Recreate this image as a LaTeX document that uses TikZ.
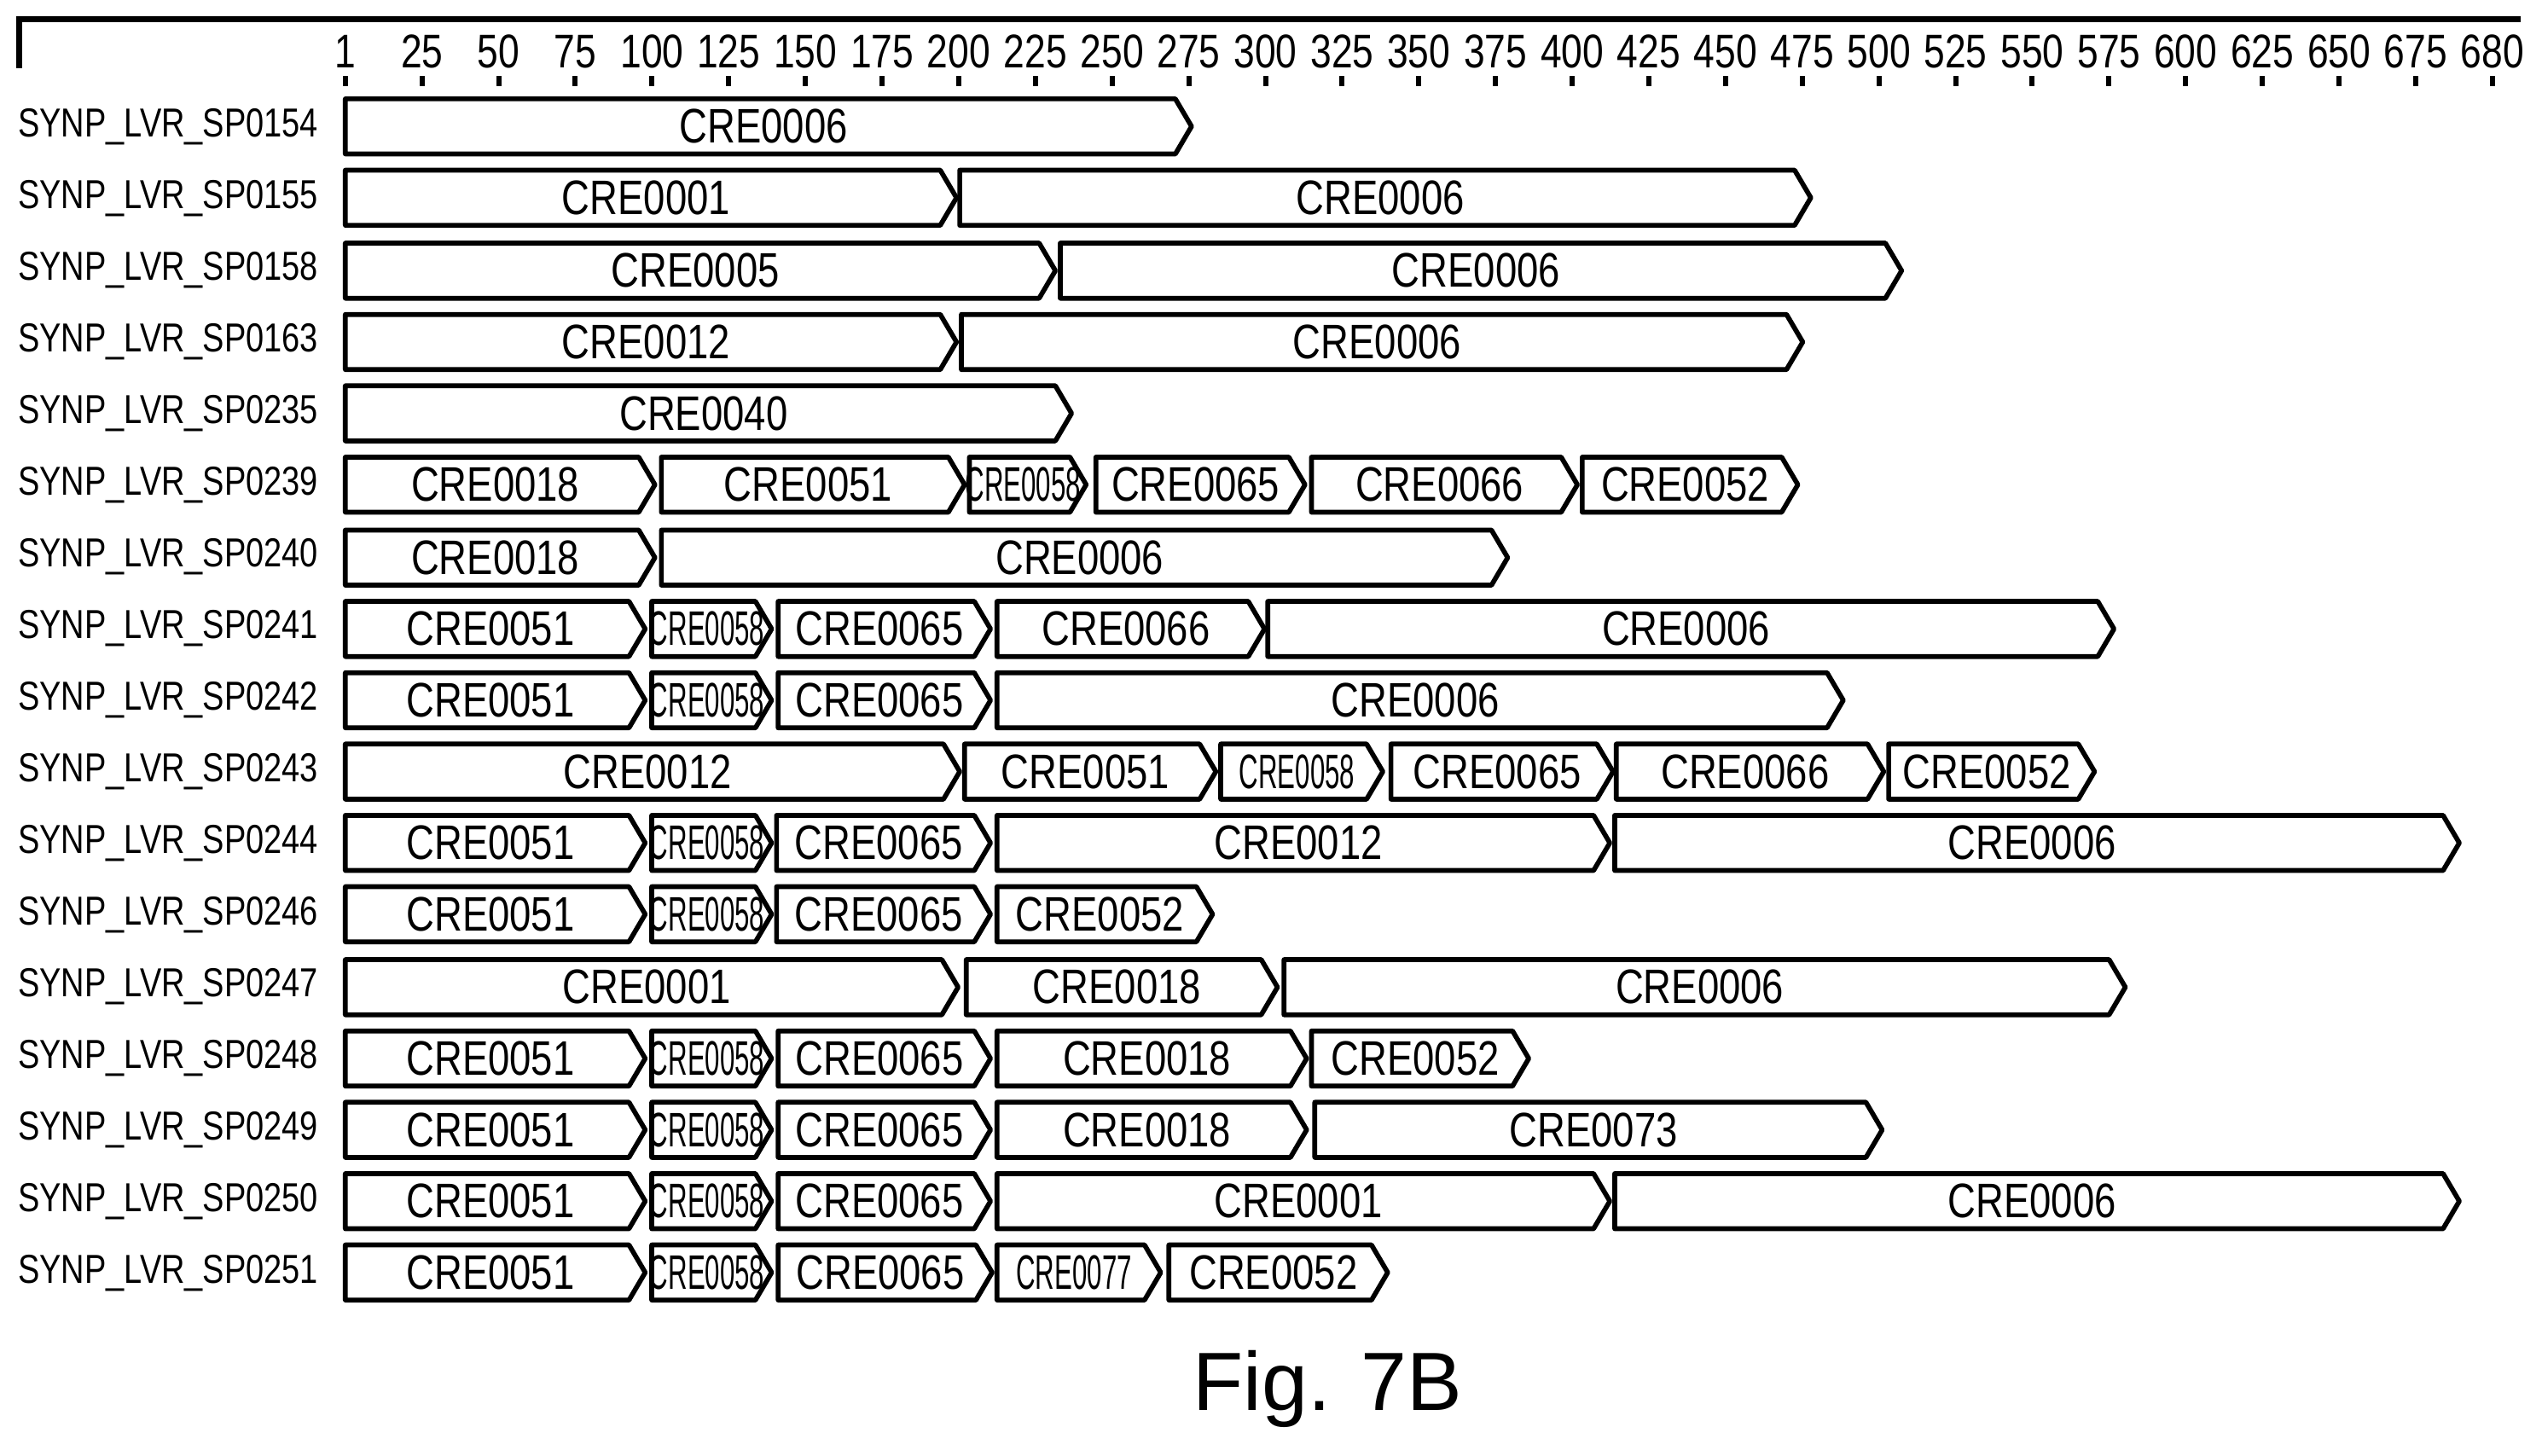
\documentclass[tikz,border=0pt]{standalone}
\usepackage{fontspec}
\setmainfont{Liberation Sans}
\usepackage{graphicx}
\newcommand{\narrow}[1]{\scalebox{0.8}[1]{#1}}
\tikzset{
  seg/.style={draw,line width=0.85pt,line join=round},
  seglabel/.style={font=\fontsize{8.5}{9}\selectfont,inner sep=0pt},
  rowlabel/.style={anchor=east,font=\fontsize{7.1}{9}\selectfont,inner sep=0pt},
  ticklabel/.style={font=\fontsize{8.3}{9}\selectfont,inner sep=0pt}
}
% one arrow-shaped segment: row y, start x, end x, name, text
\newcommand{\cre}[5]{%
  \draw[seg] (#2,#1-17) -- (#3-10,#1-17) -- (#3,#1) -- (#3-10,#1+17) -- (#2,#1+17) -- cycle;
  \node[seglabel] (#4) at ({(#2+#3)/2-3},#1) {#5};}
\begin{document}
\begin{tikzpicture}[x=0.01cm,y=-0.01cm]
  \useasboundingbox (0,0) rectangle (1568,898);
  % ruler
  \draw[line width=1.1pt] (12,42) -- (12,12) -- (1555,12);
  \foreach \v [count=\k from 0] in {1,25,50,75,100,125,150,175,200,225,250,275,300,325,350,375,400,425,450,475,500,525,550,575,600,625,650,675,680} {
    \node[ticklabel] (tick\k) at (213+47.3*\k,32) {\narrow{\v}};
    \draw[line width=0.9pt] (213+47.3*\k,47) -- (213+47.3*\k,53);
  }
  % row names
  \foreach \r [count=\i from 0] in {0154,0155,0158,0163,0235,0239,0240,0241,0242,0243,0244,0246,0247,0248,0249,0250,0251}
    \node[rowlabel] (row\r) at (197,78+44.2*\i) {\narrow{SYNP\_LVR\_SP\r}};
  % segments
  \foreach \y/\a/\b/\t [count=\n] in {
    78/213/735/CRE0006,
    122/213/590/CRE0001, 122/592/1117/CRE0006,
    167/213/651/CRE0005, 167/654/1173/CRE0006,
    211/213/590/CRE0012, 211/593/1112/CRE0006,
    255/213/661/CRE0040,
    299/213/404/CRE0018, 299/408/595/CRE0051, 299/676/805/CRE0065, 299/809/973/CRE0066, 299/976/1109/CRE0052,
    344/213/404/CRE0018, 344/408/930/CRE0006,
    388/213/398/CRE0051, 388/480/611/CRE0065, 388/615/780/CRE0066, 388/782/1304/CRE0006,
    432/213/398/CRE0051, 432/480/611/CRE0065, 432/615/1137/CRE0006,
    476/213/592/CRE0012, 476/595/750/CRE0051, 476/858/995/CRE0065, 476/997/1162/CRE0066, 476/1165/1292/CRE0052,
    520/213/398/CRE0051, 520/479/611/CRE0065, 520/615/993/CRE0012, 520/996/1517/CRE0006,
    564/213/398/CRE0051, 564/479/611/CRE0065, 564/615/748/CRE0052,
    609/213/591/CRE0001, 609/596/788/CRE0018, 609/792/1311/CRE0006,
    653/213/398/CRE0051, 653/480/611/CRE0065, 653/615/806/CRE0018, 653/809/943/CRE0052,
    697/213/398/CRE0051, 697/480/611/CRE0065, 697/615/806/CRE0018, 697/811/1161/CRE0073,
    741/213/398/CRE0051, 741/480/611/CRE0065, 741/615/993/CRE0001, 741/996/1517/CRE0006,
    785/213/398/CRE0051, 785/480/612/CRE0065, 785/721/856/CRE0052}
    {\cre{\y}{\a}{\b}{s\n}{\narrow{\t}}}
  % squeezed short segments
  \foreach \y/\a/\b/\t [count=\n] in {
    299/598/670/CRE0058, 388/402/476/CRE0058, 432/402/476/CRE0058,
    476/753/853/CRE0058, 520/402/476/CRE0058, 564/402/476/CRE0058,
    653/402/476/CRE0058, 697/402/476/CRE0058, 741/402/476/CRE0058,
    785/402/476/CRE0058, 785/615/716/CRE0077}
    {\cre{\y}{\a}{\b}{q\n}{\scalebox{0.55}[1]{\t}}}
  \node[font=\fontsize{14.5}{16}\selectfont,inner sep=0pt] (caption) at (819,857) {Fig. 7B};
\end{tikzpicture}
\end{document}
